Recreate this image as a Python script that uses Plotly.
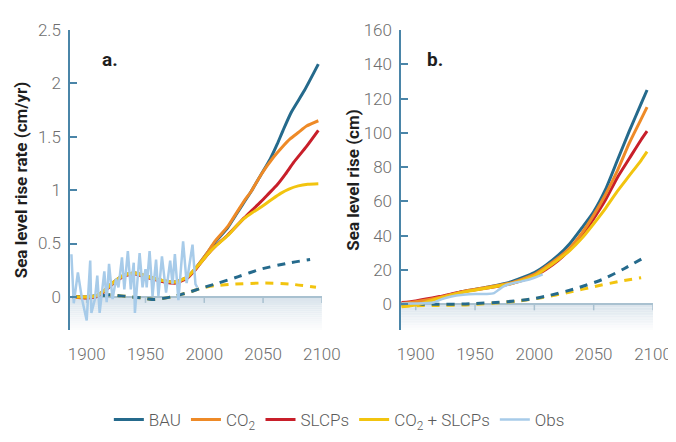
import plotly.graph_objects as go

# ---------------- Panel a: sea level rise rate (cm/yr) ----------------
a_bau_x = [1888, 1900, 1908, 1915, 1922, 1931, 1941, 1952, 1966, 1976, 1986, 1992, 1997, 2003, 2009, 2020, 2027, 2034, 2040, 2048, 2056, 2062, 2067, 2074, 2085, 2097]
a_bau_y = [0.0, 0.0, 0.01, 0.06, 0.13, 0.20, 0.225, 0.19, 0.15, 0.14, 0.19, 0.26, 0.33, 0.42, 0.51, 0.65, 0.77, 0.89, 0.99, 1.14, 1.29, 1.43, 1.56, 1.73, 1.93, 2.18]
a_co2_x = [1888, 1900, 1908, 1915, 1922, 1931, 1941, 1952, 1966, 1976, 1986, 1992, 1997, 2003, 2009, 2020, 2027, 2034, 2040, 2048, 2059, 2066, 2073, 2080, 2087, 2097]
a_co2_y = [0.0, 0.0, 0.01, 0.06, 0.13, 0.20, 0.225, 0.19, 0.15, 0.14, 0.19, 0.26, 0.33, 0.42, 0.52, 0.66, 0.78, 0.90, 0.99, 1.14, 1.31, 1.40, 1.48, 1.54, 1.60, 1.65]
a_slcp_x = [1888, 1900, 1908, 1915, 1922, 1931, 1941, 1952, 1966, 1976, 1986, 1992, 1997, 2003, 2009, 2020, 2034, 2041, 2048, 2055, 2062, 2069, 2076, 2087, 2097]
a_slcp_y = [0.0, -0.01, 0.0, 0.05, 0.12, 0.19, 0.215, 0.18, 0.14, 0.13, 0.18, 0.25, 0.32, 0.40, 0.47, 0.58, 0.74, 0.815, 0.89, 0.97, 1.05, 1.15, 1.26, 1.41, 1.56]
a_both_x = [1888, 1900, 1908, 1915, 1922, 1931, 1941, 1952, 1966, 1976, 1986, 1992, 1997, 2003, 2009, 2020, 2027, 2034, 2041, 2048, 2057, 2065, 2072, 2080, 2088, 2097]
a_both_y = [0.0, 0.0, 0.01, 0.06, 0.13, 0.20, 0.225, 0.19, 0.15, 0.14, 0.19, 0.26, 0.32, 0.40, 0.47, 0.575, 0.66, 0.735, 0.79, 0.84, 0.91, 0.97, 1.01, 1.04, 1.055, 1.06]
a_dash_bau_x = [1888, 1900, 1910, 1920, 1933, 1947, 1958, 1972, 1986, 1997, 2012, 2029, 2048, 2073, 2090]
a_dash_bau_y = [0.0, 0.005, 0.01, 0.02, 0.005, -0.01, -0.025, 0.0, 0.04, 0.08, 0.13, 0.19, 0.26, 0.32, 0.35]
a_dash_both_x = [1888, 1900, 1910, 1920, 1933, 1947, 1958, 1972, 1986, 1997, 2009, 2026, 2051, 2073, 2095]
a_dash_both_y = [0.0, 0.005, 0.01, 0.02, 0.005, -0.01, -0.025, 0.0, 0.04, 0.08, 0.105, 0.12, 0.13, 0.12, 0.09]
a_obs_x = [1887, 1889, 1892.5, 1896, 1900, 1903, 1904, 1907, 1909, 1911, 1915, 1917, 1919, 1922, 1925, 1927, 1930, 1932,
           1935, 1937.5, 1940, 1941, 1945, 1947.5, 1950, 1951, 1953.5, 1956, 1959, 1961, 1964, 1967.5, 1971, 1973, 1975,
           1978, 1982, 1985, 1990, 1992.5, 1994]
a_obs_y = [0.40, -0.06, 0.23, -0.02, -0.22, 0.34, -0.15, -0.02, 0.20, -0.15, 0.24, -0.05, 0.31, -0.02, 0.17, 0.09, 0.37, 0.07,
           0.43, 0.07, 0.32, -0.15, 0.41, 0.09, 0.26, 0.09, 0.43, 0.01, 0.35, 0.01, 0.38, 0.04, 0.34, 0.12, 0.40,
           -0.03, 0.52, 0.13, 0.49, 0.12, 0.09]

# ---------------- Panel b: sea level rise (cm) ----------------
b_x = [1888, 1900, 1920, 1940, 1960, 1980, 2000, 2010, 2020, 2030, 2040, 2050, 2060, 2070, 2080, 2090, 2095]
b_bau = [0.5, 1.5, 4.0, 7.5, 10.0, 13.0, 18.5, 23.0, 28.5, 35.5, 44.5, 54.0, 67.0, 84.0, 101.0, 117.0, 125.0]
b_co2 = [0.5, 1.5, 4.0, 7.5, 10.0, 12.5, 17.5, 22.0, 27.0, 33.0, 41.5, 52.0, 64.0, 78.0, 94.0, 108.0, 115.0]
b_slcp = [1.0, 2.0, 4.5, 7.5, 9.5, 12.0, 16.5, 20.5, 25.5, 32.0, 40.0, 50.0, 61.0, 74.0, 85.0, 96.0, 101.0]
b_both = [-1.5, -0.5, 3.5, 7.0, 9.5, 12.0, 16.5, 21.0, 26.0, 31.5, 38.5, 47.0, 56.0, 66.0, 75.0, 84.0, 89.0]
b_dash_x = [1888, 1914, 1942, 1977, 1996, 2013, 2035, 2057, 2076, 2093]
b_dash_bau = [0.0, 0.0, 0.2, 1.5, 2.9, 5.2, 9.2, 14.4, 20.9, 27.5]
b_dash_both_x = [1888, 1914, 1942, 1985, 2007, 2029, 2051, 2073, 2090]
b_dash_both = [-1.0, -0.7, -0.4, 1.8, 3.9, 7.0, 10.4, 13.5, 15.5]
b_obs_x = [1888, 1900, 1915, 1922, 1930, 1940, 1950, 1960, 1966, 1970, 1974, 1980, 1990, 2000, 2007]
b_obs_y = [0.5, 0.5, 1.0, 3.0, 4.5, 5.5, 6.0, 6.0, 6.5, 8.5, 10.5, 12.0, 13.5, 15.5, 17.5]

series_names = ["BAU", "CO<sub>2</sub>", "SLCPs", "CO<sub>2</sub> + SLCPs", "Obs"]
colors = {"BAU": "#256a8c", "CO2": "#ee8a27", "SLCP": "#c81f2a", "BOTH": "#f2c40f", "OBS": "#a7cbe9"}

a_yrange = [-0.31, 2.5]
b_yrange = [-15, 160]
a_xrange = [1885.8, 2100]
b_xrange = [1887.7, 2100]
x_ticks = [1900, 1950, 2000, 2050, 2100]

fig = go.Figure()
LW = 3


def add_line(x, y, color, name, xa, ya, legend=False, rank=None, dash=None, spline=True, width=LW):
    fig.add_trace(go.Scatter(
        x=x, y=y, mode="lines", name=name, xaxis=xa, yaxis=ya,
        line=dict(color=color, width=width, dash=dash,
                  shape="spline" if spline else "linear", smoothing=0.6),
        showlegend=legend, legendrank=rank if rank else 1000, hoverinfo="skip"))


DASH = "8px,7px"
# panel a
add_line(a_dash_both_x, a_dash_both_y, colors["BOTH"], "d2", "x", "y", dash=DASH)
add_line(a_dash_bau_x, a_dash_bau_y, colors["BAU"], "d1", "x", "y", dash=DASH)
add_line(a_bau_x, a_bau_y, colors["BAU"], series_names[0], "x", "y", True, 1)
add_line(a_slcp_x, a_slcp_y, colors["SLCP"], series_names[2], "x", "y", True, 3)
add_line(a_co2_x, a_co2_y, colors["CO2"], series_names[1], "x", "y", True, 2)
add_line(a_both_x, a_both_y, colors["BOTH"], series_names[3], "x", "y", True, 4)
add_line(a_obs_x, a_obs_y, colors["OBS"], series_names[4], "x", "y", True, 5, spline=False, width=2.5)
# panel b
add_line(b_dash_both_x, b_dash_both, colors["BOTH"], "d2", "x2", "y2", dash=DASH)
add_line(b_dash_x, b_dash_bau, colors["BAU"], "d1", "x2", "y2", dash=DASH)
add_line(b_x, b_bau, colors["BAU"], "BAU", "x2", "y2")
add_line(b_x, b_slcp, colors["SLCP"], "SLCPs", "x2", "y2")
add_line(b_x, b_co2, colors["CO2"], "CO2", "x2", "y2")
add_line(b_x, b_both, colors["BOTH"], "both", "x2", "y2")
add_line(b_obs_x, b_obs_y, colors["OBS"], "Obs", "x2", "y2", width=2.5)

# gradient below zero + baseline ticks
shapes = []
N = 16
for xr, yr, yref in [("x domain", a_yrange, "y"), ("x2 domain", b_yrange, "y2")]:
    lo = yr[0]
    for i in range(N):
        t = i / N
        c0 = (218, 228, 236)
        c = tuple(int(c0[k] + (255 - c0[k]) * t) for k in range(3))
        shapes.append(dict(type="rect", xref=xr, yref=yref, x0=0, x1=1,
                           y0=lo * t, y1=lo * (t + 1 / N), fillcolor="rgb(%d,%d,%d)" % c,
                           line=dict(width=0), layer="below"))
for xa, yref in [("x", "y"), ("x2", "y2")]:
    for tx in x_ticks:
        shapes.append(dict(type="line", xref=xa, yref=yref, ysizemode="pixel", yanchor=0,
                           x0=tx, x1=tx, y0=0, y1=-6, line=dict(color="#a9c1d0", width=1.5), layer="below"))

FONT = "Roboto"
tick_font = dict(family=FONT, size=17, color="#6e6e6e", weight=300)
axis_color = "#4a85a8"

common_x = dict(showgrid=False, zeroline=False, showline=False, ticks="", tickvals=x_ticks,
                tickfont=tick_font, ticklabelstandoff=12, fixedrange=True)
common_y = dict(showgrid=False, zeroline=True, zerolinecolor="#a9c1d0", zerolinewidth=2,
                showline=True, linecolor=axis_color, linewidth=1.5, ticks="inside", ticklen=7,
                tickcolor=axis_color, tickwidth=1.5, tickfont=tick_font, ticklabelstandoff=4)

fig.update_layout(
    width=676, height=442,
    margin=dict(l=62, r=17, t=17, b=109),
    paper_bgcolor="white", plot_bgcolor="rgba(0,0,0,0)",
    font=dict(family=FONT),
    xaxis=dict(domain=[0, 0.432], range=a_xrange, anchor="y", **common_x),
    xaxis2=dict(domain=[0.568, 1], range=b_xrange, anchor="y2", **common_x),
    yaxis=dict(range=a_yrange, anchor="x", tickvals=[0, 0.5, 1, 1.5, 2, 2.5],
               ticktext=["0", "0.5", "1", "1.5", "2", "2.5"],
               title=dict(text="Sea level rise rate (cm/yr)", standoff=6,
                          font=dict(family=FONT, size=17, color="#1e1e1e", weight=700)),
               **common_y),
    yaxis2=dict(range=b_yrange, anchor="x2", tickvals=[0, 20, 40, 60, 80, 100, 120, 140, 160],
                title=dict(text="Sea level rise (cm)", standoff=0,
                           font=dict(family=FONT, size=17, color="#1e1e1e", weight=700)),
                **common_y),
    shapes=shapes,
    legend=dict(orientation="h", x=0.462, xanchor="center", y=-0.30, yanchor="middle",
                font=dict(family=FONT, size=17, color="#5a5a5a", weight=300),
                itemwidth=30, bgcolor="rgba(0,0,0,0)", traceorder="normal"),
    annotations=[
        dict(text="<b>a.</b>", xref="paper", yref="paper", x=(93 - 62) / 597, y=(333 - 34) / 316,
             showarrow=False, font=dict(family=FONT, size=19, color="#1e1e1e")),
        dict(text="<b>b.</b>", xref="paper", yref="paper", x=(436 - 62) / 597, y=(333 - 34) / 316,
             showarrow=False, font=dict(family=FONT, size=19, color="#1e1e1e")),
    ],
)

fig.write_html("out.html")
